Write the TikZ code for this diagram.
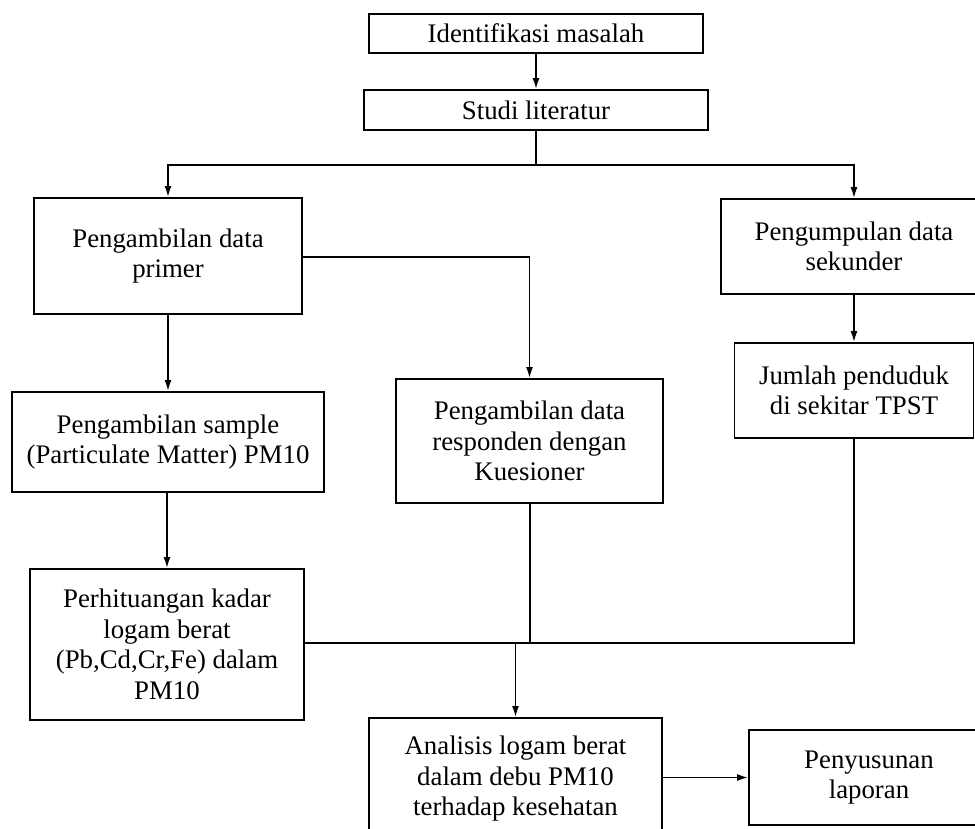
\documentclass[tikz,border=0pt]{standalone}
\usepackage{fontspec}
\setmainfont{Liberation Serif}
\usetikzlibrary{arrows.meta}
\begin{document}
\begin{tikzpicture}[x=1pt,y=-1pt,
  box/.style={draw=black, line width=1.8pt, inner sep=0pt, align=center,
    font=\fontsize{26.8pt}{30.5pt}\selectfont, text=black},
  conn/.style={draw=black, line width=1.7pt},
  arr/.style={conn, -{Latex[length=11pt,width=7pt]}}]
\useasboundingbox (0,0) rectangle (975,828);
\clip (0,0) rectangle (975,828);
\fill[white] (0,0) rectangle (975,828);

\node[box, minimum width=334pt, minimum height=39pt] (iden) at (536,33.5) {Identifikasi masalah};
\node[box, minimum width=344pt, minimum height=40pt] (studi) at (536,110) {Studi literatur};
\node[box, minimum width=268pt, minimum height=116pt] (primer) at (168,256) {Pengambilan data\\primer};
\node[box, minimum width=266pt, minimum height=95pt] (sekunder) at (854,246.5) {Pengumpulan data\\sekunder};
\node[box, minimum width=312pt, minimum height=100pt] (sample) at (168,442) {Pengambilan sample\\(Particulate Matter) PM10};
\node[box, minimum width=267pt, minimum height=124pt] (kues) at (529.5,441) {Pengambilan data\\responden dengan\\Kuesioner};
\node[box, minimum width=239pt, minimum height=95pt] (jumlah) at (854,390.5) {Jumlah penduduk\\di sekitar TPST};
\node[box, minimum width=274pt, minimum height=151pt] (perhit) at (167,644.5) {Perhituangan kadar\\logam berat\\(Pb,Cd,Cr,Fe) dalam\\PM10};
\node[box, minimum width=293pt, minimum height=122pt] (analisis) at (515.5,779) {Analisis logam berat\\dalam debu PM10\\terhadap kesehatan};
\node[box, minimum width=240pt, minimum height=95pt] (penyus) at (869,777.5) {Penyusunan\\laporan};

\coordinate (split) at (536,165);
\coordinate (merge) at (530,643);
\coordinate (drop) at (515.5,643);

\draw[arr] (iden.south) -- (studi.north);
\draw[conn] (studi.south) -- (split);
\draw[arr] (split) -| (primer.north);
\draw[arr] (split) -| (sekunder.north);
\draw[arr] (primer.south) -- (sample.north);
\draw[arr] (primer.east |- 0,257) -| (kues.north);
\draw[arr] (sekunder.south) -- (jumlah.north);
\draw[arr] (sample.south -| perhit.north) -- (perhit.north);
\draw[conn] (jumlah.south) |- (perhit.east |- merge);
\draw[conn] (kues.south -| merge) -- (merge) -- (drop);
\draw[arr] (drop) -- (analisis.north);
\draw[arr] (analisis.east |- penyus.west) -- (penyus.west);
\end{tikzpicture}
\end{document}
